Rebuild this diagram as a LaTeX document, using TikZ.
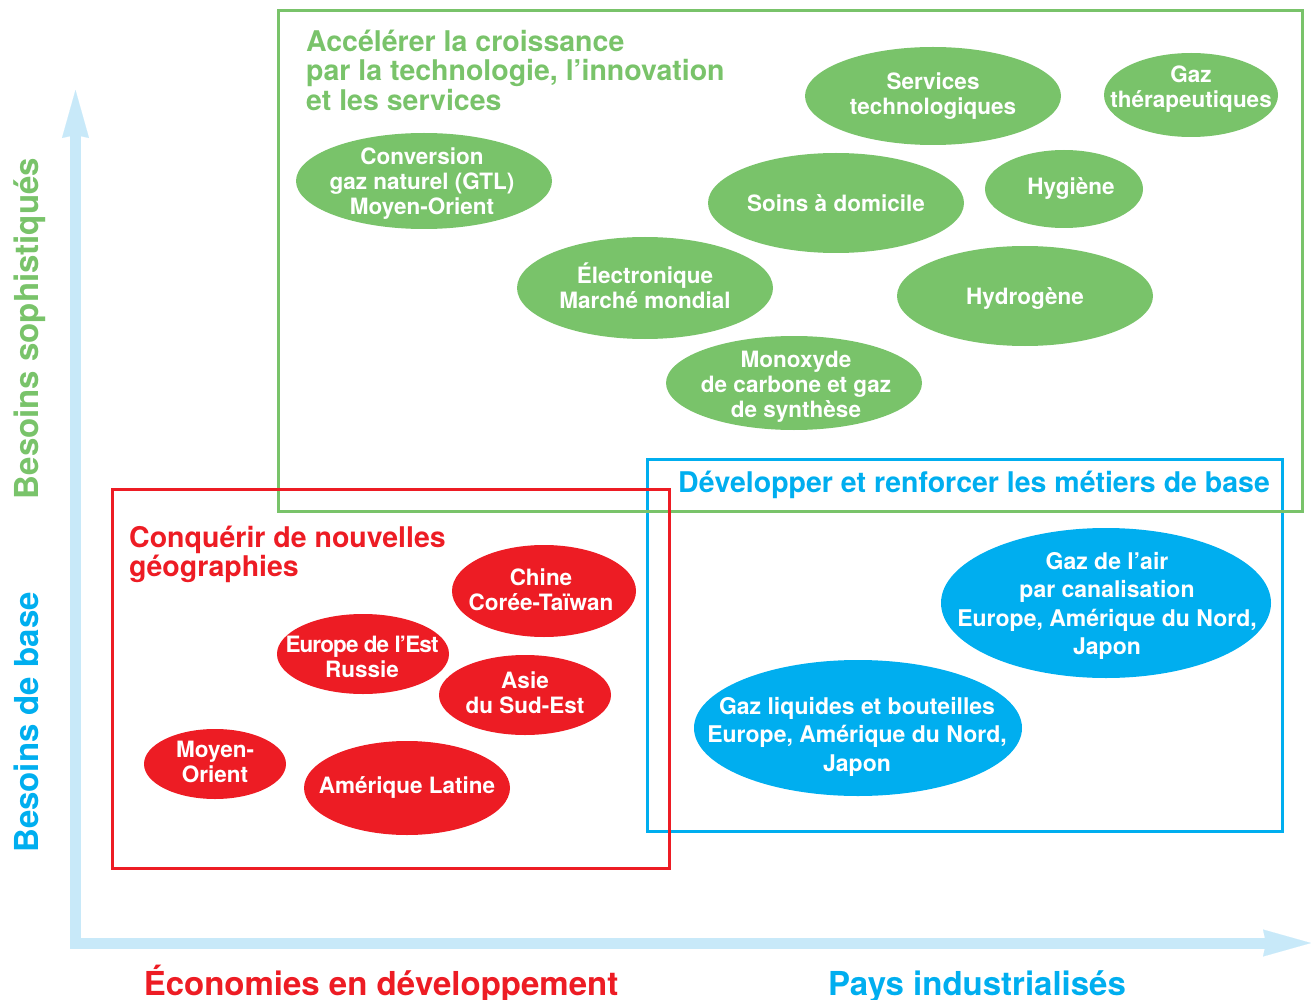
\documentclass[tikz,border=0pt]{standalone}
\usepackage{fontspec}
\setmainfont{TeX Gyre Heros}
\usetikzlibrary{arrows.meta}

\begin{document}
\begin{tikzpicture}[
  x=1pt, y=-1pt,
  blob/.style={text=white, align=center, inner sep=0pt,
    font=\fontsize{22.5}{25}\selectfont\bfseries},
  blobB/.style={blob, font=\fontsize{23}{28.5}\selectfont\bfseries},
  title/.style={align=left, anchor=west, inner sep=0pt,
    font=\fontsize{28.5}{29.5}\selectfont\bfseries},
  axislabel/.style={anchor=base, inner sep=0pt,
    font=\fontsize{33}{36}\selectfont\bfseries},
  frame/.style={line width=3pt},
  axis/.style={draw=cAxis, line width=11pt,
    {Stealth[length=48pt, width=27pt, inset=3pt, line width=0.1pt]}-{Stealth[length=48pt, width=27pt, inset=3pt, line width=0.1pt]}},
]
\definecolor{cGreen}{HTML}{79C36A}
\definecolor{cBlue}{HTML}{00AEEF}
\definecolor{cRed}{HTML}{ED1C24}
\definecolor{cAxis}{HTML}{C8E9F9}

\useasboundingbox (0,0) rectangle (1311,1000);

% ============================================================================
% axes
% ============================================================================
\coordinate (orig) at (75.5,943);
\coordinate (ytip) at (75.5,90);
\coordinate (xtip) at (1311,943);
\draw[axis] (ytip) -- (orig) -- (xtip);

\node[axislabel, rotate=90, text=cGreen] (sophLab) at (38,328.5) {Besoins sophistiqués};
\node[axislabel, rotate=90, text=cBlue] (baseLab) at (38,722.5) {Besoins de base};
\node[axislabel, text=cRed] (devLab) at (381,995) {Économies en développement};
\node[axislabel, text=cBlue] (indLab) at (977,995) {Pays industrialisés};

% ============================================================================
% the three frames (blue under green, green under red)
% ============================================================================
\draw[frame, cBlue] (647,459) rectangle (1282,831);
\draw[frame, cGreen] (278,11) rectangle (1302,511);
\draw[frame, cRed] (112,489) rectangle (669,868);

\node[title, text=cGreen] (accTitle) at (306,70)
  {Accélérer la croissance\\par la technologie, l’innovation\\et les services};
\node[title, anchor=base west, text=cBlue] (devTitle) at (678,492)
  {Développer et renforcer les métiers de base};
\node[title, text=cRed] (conqTitle) at (129,554.5)
  {Conquérir de nouvelles\\géographies};

% ============================================================================
% green blobs: technologie, innovation, services
% ============================================================================
\fill[cGreen] (424,181) ellipse [x radius=128pt, y radius=48pt];
\node[blob] (gtl) at (422,184) {Conversion\\gaz naturel (GTL)\\Moyen-Orient};

\fill[cGreen] (933,96) ellipse [x radius=128pt, y radius=49pt];
\node[blob] (servTech) at (933,96) {Services\\technologiques};

\fill[cGreen] (1191,95) ellipse [x radius=87pt, y radius=42pt];
\node[blob] (gazTher) at (1191,89.5) {Gaz\\thérapeutiques};

\fill[cGreen] (836,203) ellipse [x radius=128pt, y radius=50pt];
\node[blob] (soins) at (836,203) {Soins à domicile};

\fill[cGreen] (1064,189) ellipse [x radius=79pt, y radius=39pt];
\node[blob] (hyg) at (1071,188.5) {Hygiène};

\fill[cGreen] (645,288) ellipse [x radius=128pt, y radius=51pt];
\node[blob] (elec) at (645,286) {Électronique\\Marché mondial};

\fill[cGreen] (1025,296) ellipse [x radius=128pt, y radius=50pt];
\node[blob] (hydro) at (1025,298.5) {Hydrogène};

\fill[cGreen] (794,383) ellipse [x radius=128pt, y radius=47pt];
\node[blob] (monox) at (796,386.5) {Monoxyde\\de carbone et gaz\\de synthèse};

% ============================================================================
% red blobs: nouvelles géographies
% ============================================================================
\fill[cRed] (544,591) ellipse [x radius=92pt, y radius=46pt];
\node[blob] (chine) at (541,589.5) {Chine\\Corée-Taïwan};

\fill[cRed] (363,654) ellipse [x radius=86pt, y radius=40pt];
\node[blob] (europeEst) at (362,657)
  {\addfontfeatures{LetterSpace=-4}Europe de l’Est\\Russie};

\fill[cRed] (525,695) ellipse [x radius=86pt, y radius=40pt];
\node[blob] (asie) at (525,693) {Asie\\du Sud-Est};

\fill[cRed] (215,764) ellipse [x radius=71pt, y radius=35pt];
\node[blob] (moyOr) at (215,762) {Moyen-\\Orient};

\fill[cRed] (407,788) ellipse [x radius=103pt, y radius=47pt];
\node[blob] (amLat) at (407,787) {Amérique Latine};

% ============================================================================
% blue blobs: metiers de base
% ============================================================================
\fill[cBlue] (1106,603) ellipse [x radius=165pt, y radius=75pt];
\node[blobB] (gazAir) at (1107,606)
  {Gaz de l’air\\par canalisation\\Europe, Amérique du Nord,\\Japon};

\fill[cBlue] (858,728) ellipse [x radius=164pt, y radius=68pt];
\node[blobB] (gazLiq) at (857,736.5)
  {Gaz liquides et bouteilles\\Europe, Amérique du Nord,\\Japon};

\end{tikzpicture}
\end{document}
